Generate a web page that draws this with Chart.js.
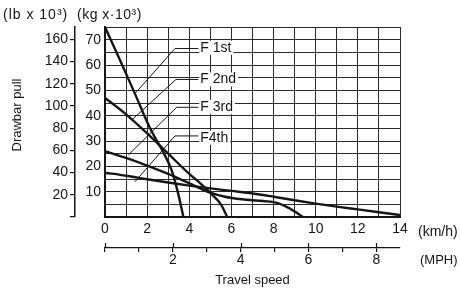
<!DOCTYPE html>
<html lang="en">
  <head>
    <meta charset="UTF-8" />
    <script src="https://cdn.jsdelivr.net/npm/chart.js@4.4.0/dist/chart.umd.min.js"></script>
    <title>Drawbar pull</title>
    <style>
      body { margin: 0; background: #fff; }
    </style>
  </head>
  <body>
    <canvas id="myChart" width="460" height="291"></canvas>
    <script>
      // drawbar pull (kg x 10^3) against travel speed (km/h), one pair per gear
      const gears = ["F 1st", "F 2nd", "F 3rd", "F4th"];
      const f1Speed = [0, 0.87, 1.43, 2.14, 2.77, 3.16, 3.45, 3.72];
      const f1Pull = [75, 59, 48.5, 35, 25.5, 18.5, 10, 0];
      const f2Speed = [0, 1, 2, 3, 4, 4.5, 5, 5.5, 5.8];
      const f2Pull = [47, 40.5, 33, 25, 17, 13.5, 9.5, 5, 0];
      const f3Speed = [0, 1, 2, 3, 4, 5, 5.7, 6.5, 7.5, 8.2, 8.8, 9.4];
      const f3Pull = [26, 23.3, 20.3, 17, 13.3, 9.6, 8, 7, 6.3, 5.5, 3.2, 0];
      const f4Speed = [0, 1, 2, 3, 4, 5, 6, 7, 8, 9, 10, 11, 12, 13, 14];
      const f4Pull = [17.5, 16.3, 14.9, 13.6, 12.4, 11.3, 10.3, 9.3, 8, 6.6, 5.3, 4.1, 3, 1.9, 0.8];

      // tick labels
      const kmhTicks = [0, 2, 4, 6, 8, 10, 12, 14];
      const mphTicks = [2, 4, 6, 8];
      const kgTicks = [10, 20, 30, 40, 50, 60, 70];
      const lbTicks = [20, 40, 60, 80, 100, 120, 140, 160];

      // callout leaders: tip on the curve, elbow, text start (data units)
      const leaderTips = [[1.42, 48.7], [1.27, 38.3], [1.11, 24.5], [1.42, 13.9]];
      const leaderElbows = [[3.32, 66.5], [3.37, 54.3], [3.4, 43.3], [3.32, 32.0]];
      const labelAt = [[4.52, 66.8], [4.52, 54.3], [4.52, 43.5], [4.52, 31.3]];

      const ink = "#151515";
      const gridInk = "#2b2b2b";
      const fontFamily = "'Liberation Sans', Arial, sans-serif";
      Chart.defaults.font.family = fontFamily;
      Chart.defaults.font.size = 14;
      Chart.defaults.color = ink;

      const pairs = (xs, ys) => xs.map((x, i) => ({ x: x, y: ys[i] }));
      const series = [
        pairs(f1Speed, f1Pull),
        pairs(f2Speed, f2Pull),
        pairs(f3Speed, f3Pull),
        pairs(f4Speed, f4Pull),
      ];

      const extras = {
        id: "extras",
        afterDraw(chart) {
          const ctx = chart.ctx;
          const x = chart.scales.x;
          const y = chart.scales.y;
          const lb = chart.scales.lb;
          const mph = chart.scales.mph;
          ctx.save();
          ctx.strokeStyle = ink;
          ctx.fillStyle = ink;

          // major MPH ticks also stick up above the line
          ctx.lineWidth = 1.2;
          ctx.beginPath();
          [0].concat(mphTicks).forEach((v) => {
            const px = Math.round(mph.getPixelForValue(v)) + 0.5;
            ctx.moveTo(px, mph.top - 5);
            ctx.lineTo(px, mph.top);
          });
          ctx.stroke();

          ctx.textBaseline = "middle";
          ctx.textAlign = "left";
          ctx.font = "14px " + fontFamily;
          ctx.letterSpacing = "1px";
          ctx.fillText("(lb x 10³)", lb.left + 3, chart.chartArea.top - 12);
          ctx.letterSpacing = "0.5px";
          ctx.fillText("(kg x·10³)", y.left + 2, chart.chartArea.top - 12);
          ctx.letterSpacing = "0px";
          ctx.fillText("(km/h)", x.right + 18, x.top + 15);
          ctx.font = "13px " + fontFamily;
          ctx.fillText("(MPH)", mph.right + 20, mph.top + 12);

          ctx.save();
          ctx.translate(lb.left + 17, (lb.top + lb.bottom) / 2 - 7);
          ctx.rotate(-Math.PI / 2);
          ctx.textAlign = "center";
          ctx.fillText("Drawbar pull", 0, 0);
          ctx.restore();

          // gear callouts
          ctx.font = "14px " + fontFamily;
          gears.forEach((name, i) => {
            const tx = x.getPixelForValue(leaderTips[i][0]);
            const ty = y.getPixelForValue(leaderTips[i][1]);
            const ex = x.getPixelForValue(leaderElbows[i][0]);
            const ey = y.getPixelForValue(leaderElbows[i][1]);
            const lx = x.getPixelForValue(labelAt[i][0]);
            const ly = y.getPixelForValue(labelAt[i][1]);
            const w = ctx.measureText(name).width;
            ctx.fillStyle = "#fff";
            ctx.fillRect(lx - 1, ly - 7, w + 3, 14);
            ctx.fillStyle = ink;
            ctx.fillText(name, lx, ly);
            ctx.lineWidth = 1;
            ctx.beginPath();
            ctx.moveTo(tx, ty);
            ctx.lineTo(ex, ey);
            ctx.lineTo(lx - 2, ey);
            ctx.stroke();
          });
          ctx.restore();
        },
      };

      const ctx = document.getElementById("myChart").getContext("2d");
      const myChart = new Chart(ctx, {
        type: "line",
        data: {
          datasets: gears.map((g, i) => ({
            label: g,
            data: series[i],
            borderColor: ink,
            borderWidth: 2.4,
            pointRadius: 0,
            fill: false,
            cubicInterpolationMode: "monotone",
          })),
        },
        options: {
          responsive: false,
          animation: false,
          devicePixelRatio: 1,
          layout: { padding: { top: 27, right: 60, left: 0, bottom: 0 } },
          plugins: { legend: { display: false }, tooltip: { enabled: false } },
          scales: {
            x: {
              type: "linear",
              position: "bottom",
              weight: 0,
              min: 0,
              max: 14,
              ticks: {
                stepSize: 1,
                autoSkip: false,
                maxRotation: 0,
                padding: 4,
                callback: (v) => (kmhTicks.includes(v) ? v : ""),
              },
              grid: { color: gridInk, lineWidth: 1, drawTicks: false },
              border: { color: ink, width: 2 },
              afterFit: (s) => { s.height = 31; },
            },
            mph: {
              type: "linear",
              position: "bottom",
              weight: 1,
              min: 0,
              max: 14 / 1.609344,
              ticks: {
                stepSize: 1,
                includeBounds: false,
                autoSkip: false,
                maxRotation: 0,
                padding: 0,
                callback: (v) => (mphTicks.includes(v) ? v : ""),
              },
              grid: { drawOnChartArea: false, drawTicks: true, tickLength: 4, color: ink, lineWidth: 1.2 },
              border: { color: ink, width: 1.3 },
              title: { display: true, text: "Travel speed", font: { size: 13 }, padding: { top: 0, bottom: 3 } },
              afterFit: (s) => { s.height = 43; },
            },
            y: {
              type: "linear",
              position: "left",
              weight: 0,
              min: 0,
              max: 75,
              ticks: {
                stepSize: 5,
                autoSkip: false,
                padding: 4,
                callback: (v) => (kgTicks.includes(v) ? v : ""),
              },
              grid: { color: gridInk, lineWidth: 1, drawTicks: false },
              border: { color: ink, width: 2 },
              afterFit: (s) => { s.width = 30; },
            },
            lb: {
              type: "linear",
              position: "left",
              weight: 1,
              min: 0,
              max: 171,
              ticks: {
                stepSize: 20,
                includeBounds: false,
                autoSkip: false,
                padding: 2,
                callback: (v) => (lbTicks.includes(v) ? v : ""),
              },
              grid: { drawOnChartArea: false, drawTicks: true, tickLength: 5, color: ink, lineWidth: 1.2 },
              border: { color: ink, width: 1.5 },
              afterFit: (s) => { s.width = 75; },
            },
          },
        },
        plugins: [extras],
      });
    </script>
  </body>
</html>
